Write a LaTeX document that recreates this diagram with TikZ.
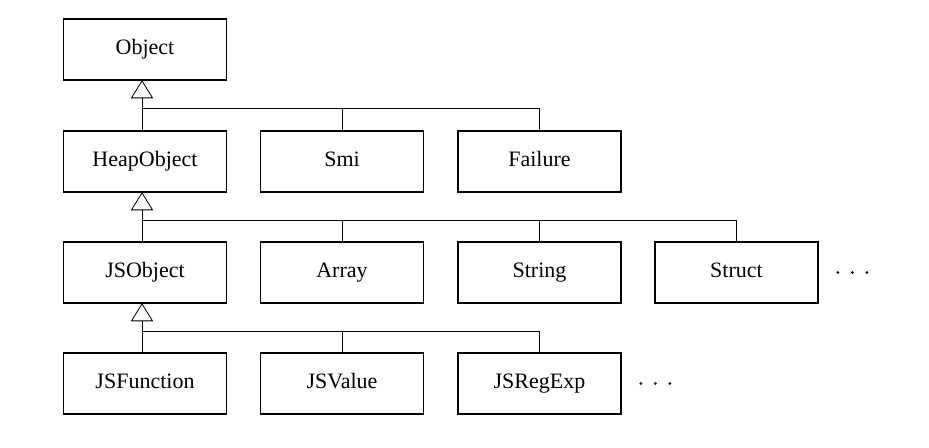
\documentclass[tikz,border=0pt]{standalone}
\usepackage{fontspec}
\setmainfont{Liberation Serif}
\usetikzlibrary{calc}
\begin{document}
\begin{tikzpicture}[x=0.75pt,y=-0.75pt,
  cls/.style={draw,line width=1.3pt,minimum width=163*0.75pt,minimum height=61*0.75pt,
    inner sep=0pt,text height=0.82em,text depth=0.09em,font=\fontsize{16.5}{18}\selectfont},
  conn/.style={line width=0.6pt},
  tri/.style={line width=0.6pt,fill=white}]
\useasboundingbox (0,0) rectangle (929,447);
% row 1
\node[cls] (obj) at (145,49.5) {Object};
% row 2
\node[cls] (heap) at (145,161.5) {HeapObject};
\node[cls] (smi) at (342,161.5) {Smi};
\node[cls] (fail) at (539.5,161.5) {Failure};
% row 3
\node[cls] (jso) at (145,272.5) {JSObject};
\node[cls] (arr) at (342,272.5) {Array};
\node[cls] (str) at (539.5,272.5) {String};
\node[cls] (struct) at (736.5,272.5) {Struct};
% row 4
\node[cls] (jsf) at (145,383.5) {JSFunction};
\node[cls] (jsv) at (342,383.5) {JSValue};
\node[cls] (jsr) at (539.5,383.5) {JSRegExp};

% generalisation connectors
\foreach \p/\last in {obj/fail, heap/struct, jso/jsr}{
  \coordinate (a-\p) at ($(\p.south)+(-3,0)$);
  \coordinate (b-\p) at ($(a-\p)+(0,17)$);
  \coordinate (h-\p) at ($(\p.south)+(0,28)$);
  \draw[conn] (b-\p) -- (b-\p |- h-\p) -| (\last.north);
  \draw[tri] (a-\p) -- ++(-10.5,17) -- ++(21,0) -- cycle;
}
\draw[conn] (b-obj |- heap.north) -- (b-obj |- h-obj);
\draw[conn] (smi.north) -- (smi.north |- h-obj);
\draw[conn] (b-heap |- jso.north) -- (b-heap |- h-heap);
\draw[conn] (arr.north) -- (arr.north |- h-heap);
\draw[conn] (str.north) -- (str.north |- h-heap);
\draw[conn] (b-jso |- jsf.north) -- (b-jso |- h-jso);
\draw[conn] (jsv.north) -- (jsv.north |- h-jso);

% ellipses
\foreach \d in {19,33.5,48}{
  \fill ($(struct.east)+(\d,0)$) circle (1.6);
  \fill ($(jsr.east)+(\d,0)$) circle (1.6);
}
\end{tikzpicture}
\end{document}
